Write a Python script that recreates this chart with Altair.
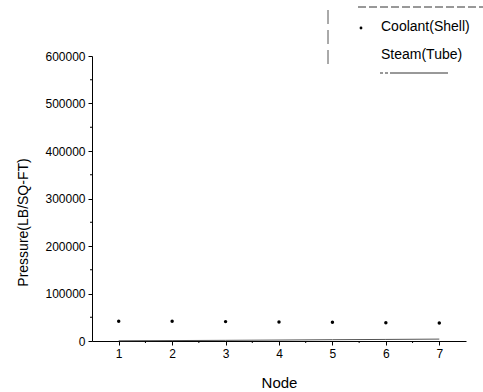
import altair as alt
import pandas as pd

# ---- data ----
nodes = [1, 2, 3, 4, 5, 6, 7]
coolant_shell = [41400, 41400, 40800, 40100, 39300, 38600, 38000]
steam_tube = [500, 900, 1400, 2000, 2700, 3300, 4000]
y_ticks = [0, 100000, 200000, 300000, 400000, 500000, 600000]
y_minor = [50000, 150000, 250000, 350000, 450000, 550000]
x_minor = [1.5, 2.5, 3.5, 4.5, 5.5, 6.5]
legend_labels = ["Coolant(Shell)", "Steam(Tube)"]

W, H = 374, 285
FONT = "Liberation Sans"

df = pd.DataFrame({"Node": nodes, "Coolant": coolant_shell, "Steam": steam_tube})
dummy = pd.DataFrame({"a": [0]})

xscale = alt.Scale(domain=[0.5, 7.5], nice=False, zero=False)
yscale = alt.Scale(domain=[0, 600000], nice=False)

xaxis = alt.Axis(values=nodes, format="d", grid=False, tickSize=4, labelPadding=3,
                 labelFontSize=12, title="Node", titleFontSize=15,
                 titleFontWeight="normal", titleY=41, titleBaseline="middle",
                 domainColor="black", tickColor="black", labelColor="black",
                 titleColor="black", labelFont=FONT, titleFont=FONT)
yaxis = alt.Axis(values=y_ticks, format="d", grid=False, tickSize=4, labelPadding=3,
                 labelFontSize=12, title="Pressure(LB/SQ-FT)", titleFontSize=14,
                 titleFontWeight="normal", titleX=-69, titleY=166,
                 titleAlign="center", titleBaseline="middle",
                 domainColor="black", tickColor="black", labelColor="black",
                 titleColor="black", labelFont=FONT, titleFont=FONT)

steam_line = alt.Chart(df).mark_line(color="#555555", strokeWidth=1).encode(
    x=alt.X("Node:Q", scale=xscale, axis=xaxis),
    y=alt.Y("Steam:Q", scale=yscale, axis=yaxis),
)

coolant_pts = alt.Chart(df).mark_circle(color="black", size=12, opacity=1).encode(
    x=alt.X("Node:Q", scale=xscale),
    y=alt.Y("Coolant:Q", scale=yscale),
)

ymin_df = pd.DataFrame({"v": y_minor})
xmin_df = pd.DataFrame({"v": x_minor})
y_minor_ticks = alt.Chart(ymin_df).mark_rule(color="black", strokeWidth=1).encode(
    y=alt.Y("v:Q", scale=yscale), x=alt.value(-2), x2=alt.value(0))
x_minor_ticks = alt.Chart(xmin_df).mark_rule(color="black", strokeWidth=1).encode(
    x=alt.X("v:Q", scale=xscale), y=alt.value(H), y2=alt.value(H + 2))

# ---- legend (drawn by hand, partially outside the plot like the reference) ----
leg_df = pd.DataFrame({"label": legend_labels})
leg_text1 = alt.Chart(leg_df[leg_df.label == legend_labels[0]]).mark_text(
    align="left", baseline="middle", fontSize=14, font=FONT, color="black").encode(
    text="label:N", x=alt.value(289), y=alt.value(-29))
leg_text2 = alt.Chart(leg_df[leg_df.label == legend_labels[1]]).mark_text(
    align="left", baseline="middle", fontSize=14, font=FONT, color="black").encode(
    text="label:N", x=alt.value(289), y=alt.value(-1))
leg_dot = alt.Chart(dummy).mark_circle(color="black", size=8, opacity=1).encode(
    x=alt.value(269), y=alt.value(-28))
box_left = alt.Chart(dummy).mark_rule(color="#555555", strokeWidth=1, strokeDash=[14, 6]).encode(
    x=alt.value(236), y=alt.value(-46), y2=alt.value(12))
box_top = alt.Chart(dummy).mark_rule(color="#333333", strokeWidth=1, strokeDash=[8, 3]).encode(
    x=alt.value(266), x2=alt.value(395), y=alt.value(-49))
box_bottom = alt.Chart(dummy).mark_rule(color="#333333", strokeWidth=1, strokeDash=[3, 2, 3, 2, 60]).encode(
    x=alt.value(288), x2=alt.value(356), y=alt.value(17))

chart = alt.layer(
    steam_line, coolant_pts, y_minor_ticks, x_minor_ticks,
    leg_dot, leg_text1, leg_text2, box_left, box_top, box_bottom,
).properties(
    width=W, height=H,
    autosize=alt.AutoSizeParams(type="none"),
    padding={"left": 92, "top": 56, "right": 17, "bottom": 51},
    background="white",
).configure_view(stroke=None)

chart.save("out.html", embed_options={"renderer": "svg", "actions": False})
